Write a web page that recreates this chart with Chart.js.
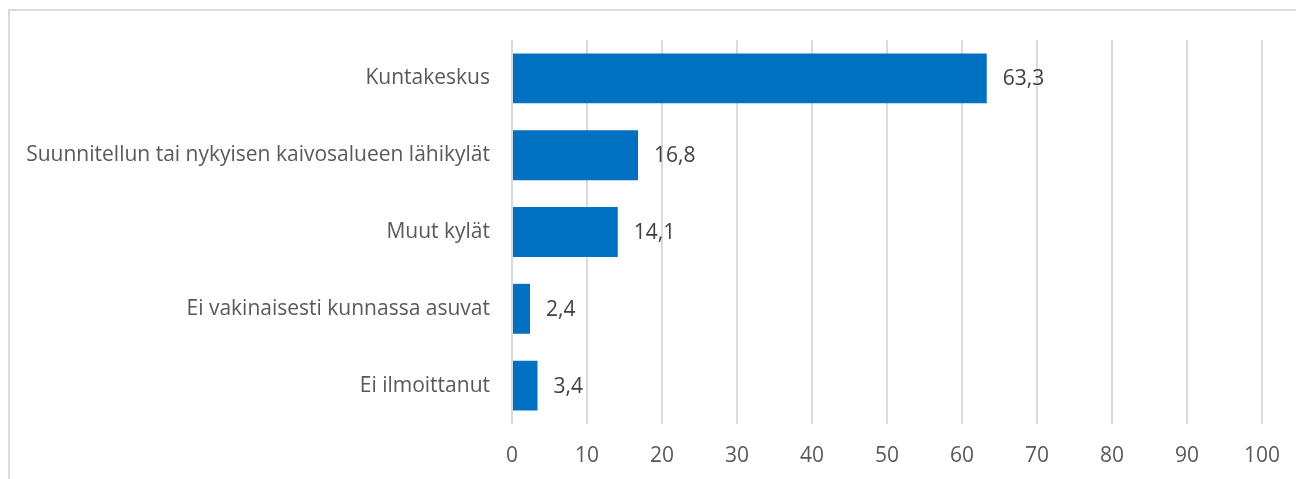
<!DOCTYPE html>
<html>
<head>
<meta charset="utf-8">
<script src="https://cdn.jsdelivr.net/npm/chart.js@4.4.1/dist/chart.umd.min.js"></script>
<style>
  html, body { margin: 0; padding: 0; background: #fff; overflow: hidden; }
  #wrap { position: relative; width: 1296px; height: 479px; }
  #frame { position: absolute; left: 8px; top: 9px; width: 1400px; height: 600px; border: 2px solid #d9d9d9; box-sizing: border-box; pointer-events: none; }
  canvas { position: absolute; left: 0; top: 0; }
</style>
</head>
<body>
<div id="wrap">
  <canvas id="bar-chart" width="1296" height="479"></canvas>
  <div id="frame"></div>
</div>
<script>
const categories = [
  'Kuntakeskus',
  'Suunnitellun tai nykyisen kaivosalueen lähikylät',
  'Muut kylät',
  'Ei vakinaisesti kunnassa asuvat',
  'Ei ilmoittanut'
];
const values = [63.3, 16.8, 14.1, 2.4, 3.4];
const xTicks = [0, 10, 20, 30, 40, 50, 60, 70, 80, 90, 100];

const fontFamily = '"Open Sans", "Noto Sans", sans-serif';

// Arvot palkkien perään
const valueLabels = {
  id: 'valueLabels',
  afterDatasetsDraw(chart) {
    const { ctx } = chart;
    const meta = chart.getDatasetMeta(0);
    ctx.save();
    ctx.font = '21px ' + fontFamily;
    ctx.fillStyle = '#404040';
    ctx.textBaseline = 'middle';
    ctx.textAlign = 'left';
    meta.data.forEach((bar, i) => {
      const txt = values[i].toFixed(1).replace('.', ',');
      ctx.fillText(txt, bar.x + 16, bar.y + 1);
    });
    ctx.restore();
  }
};

const ctx = document.getElementById('bar-chart').getContext('2d');
new Chart(ctx, {
  type: 'bar',
  data: {
    labels: categories,
    datasets: [{
      data: values,
      backgroundColor: '#0070c0',
      barPercentage: 0.65,
      categoryPercentage: 1
    }]
  },
  options: {
    indexAxis: 'y',
    responsive: false,
    animation: false,
    layout: { padding: { top: 40, right: 34, left: 0, bottom: 0 } },
    plugins: { legend: { display: false }, tooltip: { enabled: false } },
    scales: {
      x: {
        min: 0,
        max: 100,
        afterBuildTicks: s => { s.ticks = xTicks.map(v => ({ value: v })); },
        afterFit: s => { s.height = 55; s.paddingRight = 0; s.paddingLeft = 0; },
        grid: { color: '#dadada', lineWidth: 2, drawTicks: false },
        border: { display: false },
        ticks: { color: '#595959', font: { family: fontFamily, size: 21 }, padding: 19, maxRotation: 0 }
      },
      y: {
        afterFit: s => { s.width = 512; },
        grid: { display: false, drawTicks: false },
        border: { display: false },
        ticks: { color: '#595959', font: { family: fontFamily, size: 21 }, padding: 22 }
      }
    }
  },
  plugins: [valueLabels]
});
</script>
</body>
</html>
